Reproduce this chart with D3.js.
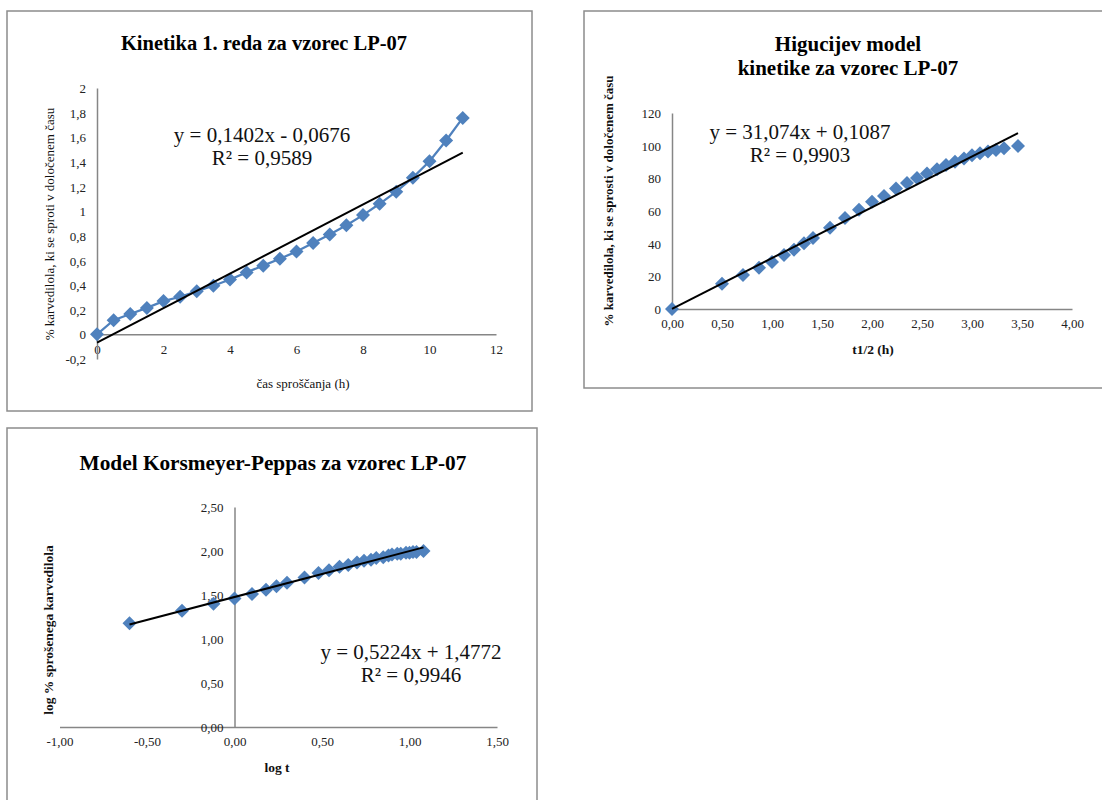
<!DOCTYPE html>
<html><head><meta charset="utf-8">
<script src="https://cdn.jsdelivr.net/npm/d3@7"></script>
<style>
html,body{margin:0;padding:0;background:#fff;}
svg{display:block;font-family:"Liberation Serif","Times New Roman",serif;}
</style></head>
<body>
<svg id="c" width="1102" height="800"></svg>
<script>
// ---------- Data ----------
// Chart 1: first-order kinetics
const k1Time = [0,0.5,1,1.5,2,2.5,3,3.5,4,4.5,5,5.5,6,6.5,7,7.5,8,8.5,9,9.5,10,10.5,11];
const k1Value = [0,0.115,0.165,0.215,0.27,0.305,0.35,0.395,0.445,0.503,0.558,0.614,0.672,0.742,0.81,0.886,0.968,1.06,1.158,1.272,1.405,1.574,1.757];
const k1Trend = [0.1402, -0.0676];
const k1XTicks = [0,2,4,6,8,10,12];
const k1YTicks = [-0.2,0,0.2,0.4,0.6,0.8,1,1.2,1.4,1.6,1.8,2];

// Chart 2: Higuchi
const hSqrtT = [0,0.50,0.71,0.87,1.00,1.12,1.22,1.32,1.41,1.58,1.73,1.87,2.00,2.12,2.24,2.35,2.45,2.55,2.65,2.74,2.83,2.92,3.00,3.08,3.16,3.24,3.32,3.46];
const hValue = [0,15.5,20.8,25.2,28.7,33.0,36.3,40.3,43.5,49.8,55.7,60.7,65.6,69.2,73.8,77.2,80.2,82.9,85.6,88.1,90.2,92.2,94.1,95.3,96.4,97.4,98.4,99.8];
const hTrend = [31.074, 0.1087];
const hXTicks = [0,0.5,1,1.5,2,2.5,3,3.5,4];
const hYTicks = [0,20,40,60,80,100,120];

// Chart 3: Korsmeyer-Peppas
const kpLogT = [-0.60,-0.30,-0.12,0.00,0.10,0.18,0.24,0.30,0.40,0.48,0.54,0.60,0.65,0.70,0.74,0.78,0.81,0.85,0.88,0.90,0.93,0.95,0.98,1.00,1.02,1.04,1.08];
const kpLogQ = [1.18,1.32,1.40,1.46,1.51,1.56,1.60,1.64,1.70,1.75,1.78,1.82,1.84,1.87,1.89,1.90,1.92,1.93,1.95,1.96,1.97,1.97,1.98,1.98,1.99,1.99,2.00];
const kpTrend = [0.5224, 1.4772];
const kpXTicks = [-1,-0.5,0,0.5,1,1.5];
const kpYTicks = [0,0.5,1,1.5,2,2.5];

// ---------- Drawing ----------
const svg = d3.select("#c");
const BLUE = "#4F81BD", AXIS = "#868686", FRAME = "#8c8c8c";
const comma = (dec) => (v) => {
  let s = dec === null ? String(Math.round(v*10)/10) : v.toFixed(dec);
  return s.replace(".", ",");
};

function frame(x0,y0,x1,y1){
  svg.append("rect").attr("x",x0).attr("y",y0).attr("width",x1-x0).attr("height",y1-y0)
    .attr("fill","#fff").attr("stroke",FRAME).attr("stroke-width",1.5);
}

function chart(cfg){
  const x = d3.scaleLinear().domain(cfg.xDomain).range(cfg.xRange);
  const y = d3.scaleLinear().domain(cfg.yDomain).range(cfg.yRange);
  const g = svg.append("g");
  const fs = 13;
  const xAxis = d3.axisBottom(x).tickValues(cfg.xTicks).tickSize(0).tickFormat(cfg.xFmt).tickPadding(10);
  const yAxis = d3.axisLeft(y).tickValues(cfg.yTicks).tickSize(0).tickFormat(cfg.yFmt).tickPadding(11);
  const gx = g.append("g").attr("transform",`translate(0,${y(0)})`).call(xAxis);
  const gy = g.append("g").attr("transform",`translate(${x(0)},0)`).call(yAxis);
  [gx,gy].forEach(a=>{
    a.select(".domain").attr("stroke",AXIS).attr("stroke-width",1.5);
    a.selectAll("text").attr("font-family","Liberation Serif").attr("font-size",fs).attr("fill","#222");
  });
  gx.selectAll("text").attr("dy","0.71em");
  gy.selectAll("text").attr("dy","0.35em");
  if (cfg.connect){
    g.append("path").datum(cfg.xs.map((v,i)=>[v,cfg.ys[i]]))
      .attr("fill","none").attr("stroke",BLUE).attr("stroke-width",2.25)
      .attr("d", d3.line().x(d=>x(d[0])).y(d=>y(d[1])));
  }
  const r = 7;
  g.selectAll("path.m").data(cfg.xs.map((v,i)=>[v,cfg.ys[i]])).enter().append("path")
    .attr("class","m")
    .attr("d", d=>{const cx=x(d[0]), cy=y(d[1]); return `M${cx},${cy-r}L${cx+r},${cy}L${cx},${cy+r}L${cx-r},${cy}Z`;})
    .attr("fill",BLUE);
  const tx0 = d3.min(cfg.xs), tx1 = d3.max(cfg.xs);
  g.append("line").attr("x1",x(tx0)).attr("y1",y(cfg.trend[0]*tx0+cfg.trend[1]))
    .attr("x2",x(tx1)).attr("y2",y(cfg.trend[0]*tx1+cfg.trend[1]))
    .attr("stroke","#000").attr("stroke-width",2);
  cfg.title.forEach((t,i)=>{
    g.append("text").attr("x",cfg.titlePos[0]).attr("y",cfg.titlePos[1]+i*24).attr("text-anchor","middle")
      .attr("dominant-baseline","central").attr("font-weight","bold").attr("font-size",cfg.titleSize).attr("fill","#000").text(t);
  });
  g.append("text").attr("x",cfg.eqPos[0]).attr("y",cfg.eqPos[1]).attr("text-anchor","middle")
    .attr("dominant-baseline","central").attr("font-size",21).attr("fill","#111").text(cfg.eq[0]);
  g.append("text").attr("x",cfg.eqPos[0]).attr("y",cfg.eqPos[1]+23).attr("text-anchor","middle")
    .attr("dominant-baseline","central").attr("font-size",21).attr("fill","#111").text(cfg.eq[1]);
  g.append("text").attr("transform",`translate(${cfg.yLabPos[0]},${cfg.yLabPos[1]}) rotate(-90)`)
    .attr("text-anchor","middle").attr("dominant-baseline","central")
    .attr("font-weight",cfg.labBold?"bold":"normal").attr("font-size",cfg.yLabSize).attr("fill","#111").text(cfg.yLab);
  g.append("text").attr("x",cfg.xLabPos[0]).attr("y",cfg.xLabPos[1]).attr("text-anchor","middle")
    .attr("dominant-baseline","central").attr("font-weight",cfg.labBold?"bold":"normal")
    .attr("font-size",cfg.xLabSize).attr("fill","#111").text(cfg.xLab);
}

frame(7,11,532,411);
frame(584,11,1106,388);
frame(7,428,537,806);

chart({
  xs:k1Time, ys:k1Value, trend:k1Trend, connect:true,
  xDomain:[0,12], xRange:[97,496], yDomain:[-0.2,2], yRange:[359,88],
  xTicks:k1XTicks, yTicks:k1YTicks, xFmt:d=>String(d), yFmt:comma(null),
  title:["Kinetika 1. reda za vzorec LP-07"], titlePos:[264,43], titleSize:20.5,
  eq:["y = 0,1402x - 0,0676","R² = 0,9589"], eqPos:[262,135],
  yLab:"% karvedilola, ki se sproti v določenem času", yLabPos:[49,224], yLabSize:13,
  xLab:"čas sproščanja (h)", xLabPos:[303,383], xLabSize:13, labBold:false
});

chart({
  xs:hSqrtT, ys:hValue, trend:hTrend, connect:false,
  xDomain:[0,4], xRange:[672,1072], yDomain:[0,120], yRange:[309,113],
  xTicks:hXTicks, yTicks:hYTicks, xFmt:comma(2), yFmt:d=>String(d),
  title:["Higucijev model","kinetike za vzorec LP-07"], titlePos:[848,44], titleSize:21,
  eq:["y = 31,074x + 0,1087","R² = 0,9903"], eqPos:[800,132],
  yLab:"% karvedilola, ki se sprosti v določenem času", yLabPos:[608,201], yLabSize:13,
  xLab:"t1/2 (h)", xLabPos:[873,349], xLabSize:13.5, labBold:true
});

chart({
  xs:kpLogT, ys:kpLogQ, trend:kpTrend, connect:false,
  xDomain:[-1,1.5], xRange:[59.5,497], yDomain:[0,2.5], yRange:[727,507],
  xTicks:kpXTicks, yTicks:kpYTicks, xFmt:comma(2), yFmt:comma(2),
  title:["Model Korsmeyer-Peppas za vzorec LP-07"], titlePos:[273,463], titleSize:21.3,
  eq:["y = 0,5224x + 1,4772","R² = 0,9946"], eqPos:[411,652],
  yLab:"log % sprošenega karvedilola", yLabPos:[48,630], yLabSize:13.5,
  xLab:"log t", xLabPos:[277,767], xLabSize:13.5, labBold:true
});
</script>
</body></html>
